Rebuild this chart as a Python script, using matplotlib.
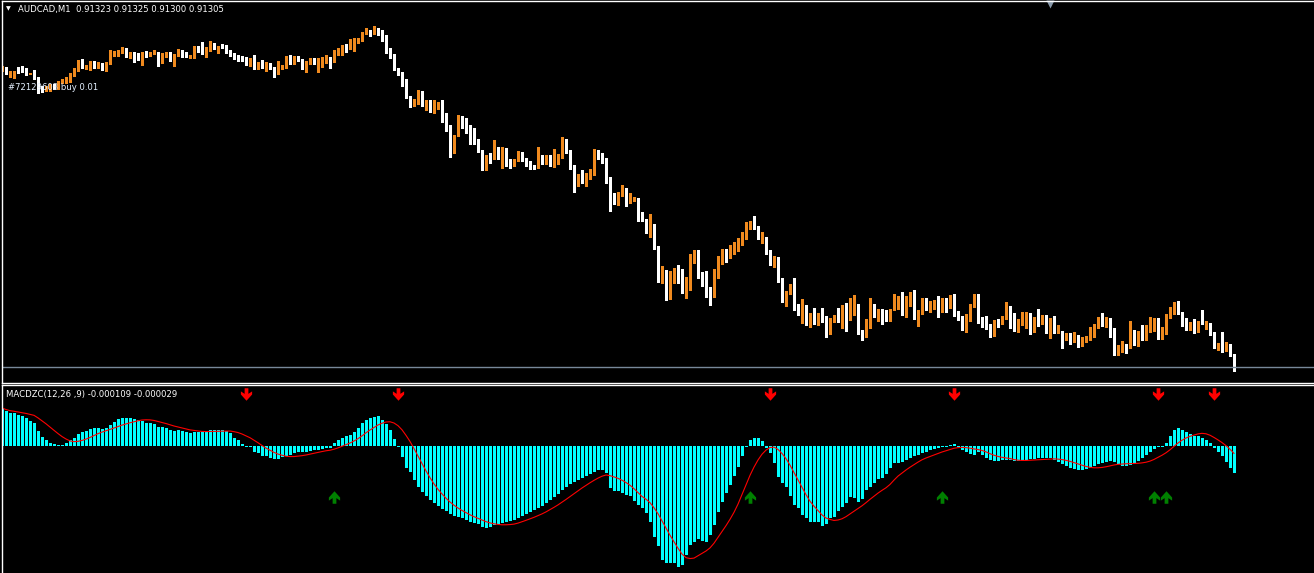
import numpy as np
import pandas as pd
import matplotlib
matplotlib.use("Agg")
import matplotlib.pyplot as plt
import matplotlib.transforms as mtransforms
from matplotlib.path import Path

# AUDCAD M1, prices in points above 0.91000  (price = 0.91 + pts / 100000)
open_pts = [602,604,597,597,604,604,603,598,600,594, 585,582,582,587,584,590,590,591,597,602,
            612,604,603,609,605,608,602,609,617,617, 620,623,615,619,618,612,620,617,618,619,
            610,616,619,612,617,621,619,615,615,625, 622,619,622,628,624,627,626,621,618,616,
            615,614,607,616,604,609,605,608,604,599, 604,605,615,609,615,612,604,609,613,609,
            612,610,614,611,620,620,627,624,625,630, 632,639,641,640,643,641,635,622,617,603,
            599,592,575,567,569,580,566,568,560,564, 569,554,545,522,537,553,546,546,543,532,
            521,506,516,514,524,514,523,512,510,512, 519,512,510,506,505,515,509,516,506,512,
            515,532,521,506,489,496,493,494,498,517, 515,513,490,474,468,477,483,470,472,473,
            456,452,443,447,425,393,401,374,393,405, 393,382,390,410,416,399,394,380,376,397,
            409,420,417,419,422,428,434,447,449,445, 433,434,421,408,410,393,372,379,389,367,
            359,366,352,355,348,359,355,339,351,356, 352,364,356,358,365,338,336,350,367,357,
            361,359,352,363,364,374,359,370,371,354, 359,373,363,364,372,363,373,365,376,358,
            355,344,352,366,376,351,349,347,337,351, 349,354,365,349,344,350,354,358,341,354,
            349,356,343,350,340,340,334,338,332,336, 327,333,334,336,345,355,346,353,343,319,
            322,325,325,338,334,338,333,341,352,353, 334,339,355,359,367,359,350,346,348,341,
            351,348,348,339,324,327,322,327,317]
close_pts = [605,599,600,600,600,601,598,599,594,582, 582,585,587,584,590,591,594,598,603,611,
             605,606,610,606,609,603,609,619,620,621, 624,616,619,615,613,619,616,619,621,613,
             618,619,612,617,622,616,616,616,625,621, 619,624,628,624,625,625,620,617,614,612,
             612,608,613,604,609,605,609,604,599,606, 606,615,609,615,612,604,610,613,609,613,
             613,614,612,621,621,626,621,626,630,633, 639,641,638,642,639,632,620,615,603,598,
             590,575,567,572,579,567,569,564,564,569, 553,542,524,536,554,545,545,542,529,521,
             505,516,514,525,514,524,512,510,512,519, 512,508,505,504,514,509,516,507,513,515,
             532,520,504,489,497,494,497,500,518,514, 513,492,471,469,479,483,469,474,474,456,
             452,442,447,425,394,402,375,393,403,391, 380,391,411,416,399,394,377,375,401,409,
             421,419,421,424,431,434,449,449,444,434, 434,419,408,409,391,371,380,387,365,358,
             367,352,355,349,358,351,338,353,356,354, 363,355,358,366,340,336,352,369,356,360,
             360,352,362,366,375,358,371,373,354,361, 373,364,364,371,364,373,363,375,357,353,
             343,356,367,376,350,349,346,336,351,348, 355,366,347,342,352,354,358,342,353,347,
             356,343,351,340,341,335,338,330,335,326, 334,335,336,347,353,347,354,342,319,322,
             324,324,338,335,339,334,343,353,353,334, 338,356,362,367,359,350,348,349,340,350,
             349,350,338,325,327,321,327,317,305]
high_pts = [606,605,601,601,605,606,604,599,602,595, 586,586,588,588,591,593,595,599,604,612,
            613,607,611,611,610,609,610,622,621,622, 625,624,620,620,619,620,621,620,622,620,
            619,620,620,618,623,622,620,617,626,626, 630,625,631,629,626,628,627,622,619,617,
            616,615,614,617,610,612,610,609,605,611, 607,616,617,616,616,613,611,614,614,614,
            615,617,615,622,624,627,628,633,634,634, 640,644,642,646,644,642,637,624,618,604,
            600,593,576,573,582,581,572,572,572,570, 572,559,547,537,557,556,554,547,544,533,
            522,517,519,532,525,525,524,513,513,521, 520,514,511,507,525,517,517,517,523,518,
            535,533,522,507,498,502,499,503,523,522, 519,514,495,479,480,487,484,479,475,474,
            460,453,458,448,426,406,402,401,404,407, 403,395,418,422,422,400,401,385,403,416,
            423,423,427,430,434,440,450,451,456,446, 440,435,422,416,415,394,381,388,394,368,
            373,367,359,364,359,364,356,354,357,364, 367,369,374,377,368,342,353,374,368,363,
            363,362,363,378,376,380,376,380,382,362, 374,374,371,372,376,374,374,377,378,361,
            356,358,368,378,378,355,356,348,352,353, 356,370,366,359,353,360,360,359,355,363,
            357,357,354,356,347,341,339,339,340,337, 335,336,345,348,355,359,355,354,344,327,
            331,328,351,342,341,347,347,355,354,354, 345,358,365,370,371,360,354,350,353,351,
            362,351,349,340,329,340,330,328,318]
low_pts = [601,598,595,594,599,600,597,598,593,579, 580,581,581,583,583,589,589,590,596,601,
           604,603,602,604,604,602,601,608,616,616, 619,615,614,610,612,607,615,616,618,606,
           609,615,611,606,616,615,615,614,614,620, 618,615,621,623,619,624,619,616,613,611,
           611,607,606,603,603,604,601,603,595,598, 603,604,608,608,611,603,600,608,608,600,
           605,609,604,610,617,617,620,623,621,629, 631,638,636,638,637,631,619,614,602,597,
           586,574,565,566,568,566,562,560,559,563, 550,541,515,519,536,544,539,528,528,520,
           502,502,509,513,513,504,506,504,506,511, 511,506,503,503,504,508,508,506,505,508,
           514,519,503,480,486,489,486,493,497,513, 509,489,461,468,467,476,466,469,471,451,
           451,439,435,423,390,389,372,373,389,389, 379,374,382,409,394,386,375,367,375,394,
           408,410,414,418,421,427,433,443,443,433, 429,418,407,405,390,370,366,378,362,357,
           349,347,345,348,347,350,335,338,350,350, 344,341,352,357,338,332,335,344,355,351,
           348,351,351,362,363,357,355,366,353,346, 358,362,360,363,355,360,360,364,356,352,
           342,340,351,365,349,345,343,335,336,345, 348,353,344,341,340,347,344,338,340,346,
           348,339,334,339,339,324,332,328,330,325, 326,330,332,335,344,346,345,335,317,317,
           320,319,324,327,326,332,332,340,341,333, 333,338,354,358,358,346,342,342,339,340,
           348,343,337,324,322,320,321,316,301]

# MACDZC main line, in units of 1e-6
macd_e6 = [152,140,132,132,124,120,112,100,92,60, 36,24,12,8,4,4,12,24,32,48,
           56,60,68,72,72,68,72,84,96,108, 112,112,112,108,104,100,92,92,88,76,
           76,72,64,60,64,60,56,52,56,56, 56,60,64,64,64,64,60,52,32,24,
           8,-2,-4,-24,-28,-40,-40,-48,-52,-52, -44,-40,-36,-28,-24,-24,-24,-20,-16,-16,
           -12,-8,-8,12,24,32,40,44,56,72, 92,104,112,116,120,104,88,64,28,-4,
           -44,-88,-104,-136,-164,-184,-200,-216,-228,-240, -252,-260,-272,-280,-284,-288,-296,-304,-308,-312,
           -324,-328,-324,-316,-312,-308,-304,-300,-296,-288, -280,-272,-264,-256,-248,-240,-228,-216,-204,-192,
           -176,-164,-152,-144,-136,-128,-120,-112,-104,-96, -96,-108,-168,-180,-180,-188,-196,-200,-220,-236,
           -248,-268,-304,-364,-400,-456,-468,-468,-468,-484, -476,-436,-396,-384,-372,-380,-384,-356,-316,-264,
           -224,-188,-156,-120,-84,-40,-4,24,32,32, 20,-8,-28,-68,-124,-148,-164,-200,-236,-248,
           -276,-288,-304,-304,-304,-320,-312,-288,-284,-260, -244,-228,-204,-208,-224,-212,-176,-164,-148,-132,
           -128,-112,-88,-68,-68,-64,-56,-48,-40,-36, -28,-24,-16,-12,-8,-4,-2,4,8,-4,
           -16,-24,-32,-36,-24,-36,-48,-56,-60,-60, -56,-56,-56,-60,-60,-56,-56,-52,-52,-48,
           -48,-48,-48,-56,-64,-72,-80,-88,-92,-96, -96,-92,-88,-80,-72,-68,-64,-60,-64,-72,
           -80,-80,-76,-68,-60,-48,-36,-24,-12,-4, -4,12,40,64,72,64,56,48,40,40,
           32,24,12,-8,-24,-40,-64,-88,-109]

sell_arrows = [61, 99, 192, 238, 289, 303]
buy_arrows = [83, 187, 235, 288, 291]

header = "AUDCAD,M1  0.91323 0.91325 0.91300 0.91305"
trade_label = "#72129603 buy 0.01"
macd_label = "MACDZC(12,26 ,9) -0.000109 -0.000029"

o = 0.91 + np.array(open_pts) / 1e5
c = 0.91 + np.array(close_pts) / 1e5
h = 0.91 + np.array(high_pts) / 1e5
l = 0.91 + np.array(low_pts) / 1e5
x = np.arange(len(o))
macd = np.array(macd_e6) * 1e-6
signal = pd.Series(macd).rolling(9, min_periods=1).mean()

BULL = "#f08a1e"
BEAR = "#ffffff"
CYAN = "#00ffff"

W, H = 1314, 573
fig = plt.figure(figsize=(W / 100, H / 100), dpi=100, facecolor="black")

# pixel layout of the two MT4 windows
left_px, right_px = 1.5, 1320
ax = fig.add_axes([left_px / W, (H - 383) / H, (right_px - left_px) / W, 382 / H])
ax2 = fig.add_axes([left_px / W, (H - 574) / H, (right_px - left_px) / W, 189 / H])
xmin = -0.125
xmax = xmin + (right_px - left_px) / 4
for a in (ax, ax2):
    a.set_facecolor("black")
    a.set_xlim(xmin, xmax)
    a.set_xticks([])
    a.set_yticks([])
    for s in a.spines.values():
        s.set_color("white")
        s.set_linewidth(1)

# candles
up = c >= o
cols = np.where(up, BULL, BEAR)
ax.vlines(x, l, h, colors=cols, linewidth=0.75, antialiased=False)
body = np.maximum(np.abs(c - o), 1e-5)
ax.bar(x, body, bottom=np.minimum(o, c), width=0.75, color=cols, linewidth=0, antialiased=False)
ax.axhline(c[-1], color="#778899", linewidth=1)
ax.set_ylim(0.91289, 0.91671)

# chart shift marker
tr = mtransforms.blended_transform_factory(ax.transData, ax.transAxes)
ax.plot([262], [0.991], marker="v", ms=6, color="#8899aa", mec="none", transform=tr, clip_on=False)

# MACD window
ax2.bar(x, macd, width=0.75, color=CYAN, linewidth=0, antialiased=False)
ax2.plot(x, signal, color="#ff0000", linewidth=0.8)
ax2.set_ylim(-512e-6, 244e-6)

arrow_down = Path([(-0.3, 1), (0.3, 1), (0.3, 0.1), (0.9, 0.5), (0.9, 0.0), (0, -1),
                   (-0.9, 0.0), (-0.9, 0.5), (-0.3, 0.1), (-0.3, 1)], closed=True)
arrow_up = Path([(px, -py) for px, py in arrow_down.vertices], closed=True)
tr2 = mtransforms.blended_transform_factory(ax2.transData, ax2.transAxes)
ax2.plot(sell_arrows, [0.952] * len(sell_arrows), ls="none", marker=arrow_down, ms=9,
         color="#ff0000", mec="none", transform=tr2)
ax2.plot(buy_arrows, [0.407] * len(buy_arrows), ls="none", marker=arrow_up, ms=9,
         color="#008000", mec="none", transform=tr2)

# texts
fig.text(8 / W, 1 - 9 / H, "\u25bc", color="white", fontsize=4.5, ha="center", va="center")
fig.text(18 / W, 1 - 9.5 / H, header, color="white", fontsize=6.1, family="DejaVu Sans", va="center")
fig.text(8 / W, 1 - 87.5 / H, trade_label, color="#e4f0ff", fontsize=6.1, family="DejaVu Sans", va="center")
fig.text(6 / W, 1 - 394 / H, macd_label, color="white", fontsize=6.1, family="DejaVu Sans", va="center")

fig.savefig("out.png", dpi=100, facecolor="black")
